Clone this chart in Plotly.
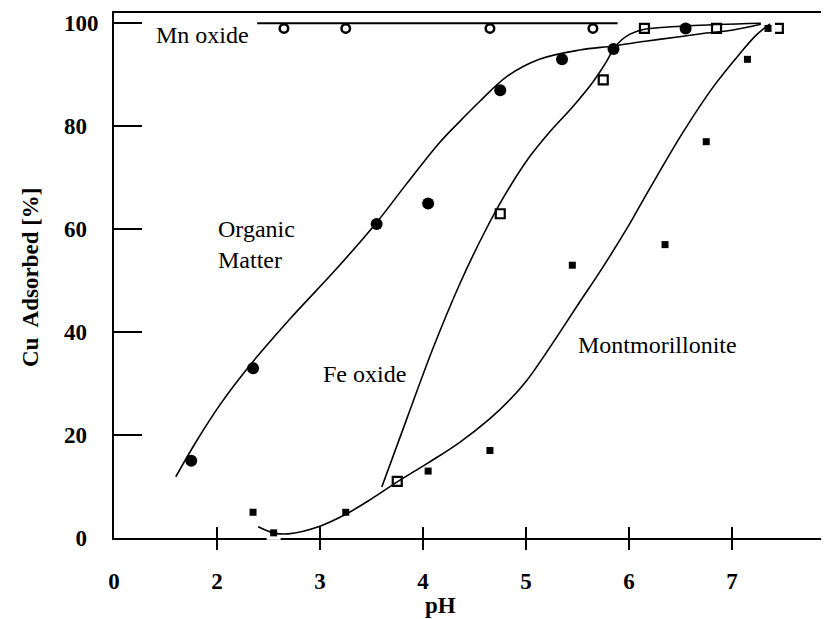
import plotly.graph_objects as go

# ---------------- data ----------------
# measured points
om_ph = [1.75, 2.35, 3.55, 4.05, 4.75, 5.35, 5.85, 6.55]
om_cu = [15, 33, 61, 65, 87, 93, 95, 99]

mn_ph = [2.65, 3.25, 4.65, 5.65]
mn_cu = [99, 99, 99, 99]

fe_ph = [3.75, 4.75, 5.75, 6.15, 6.85, 7.45]
fe_cu = [11, 63, 89, 99, 99, 99]

mt_ph = [2.35, 2.55, 3.25, 4.05, 4.65, 5.45, 6.35, 6.75, 7.15, 7.35]
mt_cu = [5, 1, 5, 13, 17, 53, 57, 77, 93, 99]

# hand-drawn fitted curves (traced)
om_curve_ph = [1.60, 1.80, 2.04, 2.33, 2.71, 3.16, 3.55, 3.84, 4.16, 4.36, 4.55, 4.81,
               5.13, 5.52, 5.85, 6.16, 6.49, 6.75, 7.01, 7.28]
om_curve_cu = [11.9, 18.8, 26.2, 33.8, 42.6, 52.3, 61.3, 68.8, 76.8, 81.0, 84.8, 89.6,
               93.0, 94.8, 95.6, 96.5, 97.4, 98.1, 98.7, 99.8]

fe_curve_ph = [3.60, 3.84, 4.10, 4.36, 4.60, 4.80, 5.04, 5.23, 5.45, 5.65, 5.78, 5.85,
               5.93, 6.01, 6.14, 6.57, 7.28]
fe_curve_cu = [9.9, 23.0, 37.0, 49.5, 59.5, 66.8, 74.2, 78.9, 83.7, 88.6, 92.5, 95.0,
               96.8, 97.9, 98.8, 99.5, 100.0]

mt_curve_ph = [2.40, 2.55, 2.69, 3.00, 3.25, 3.50, 3.75, 4.05, 4.35, 4.65, 4.85, 5.00,
               5.15, 5.33, 5.52, 5.72, 5.97, 6.19, 6.53, 6.82, 7.08, 7.24, 7.37]
mt_curve_cu = [2.2, 1.0, 0.8, 2.3, 4.6, 7.6, 10.9, 14.6, 18.5, 23.2, 27.0, 30.4,
               34.6, 40.0, 45.8, 51.8, 59.8, 67.5, 79.0, 87.7, 94.2, 97.8, 99.9]

mn_line_ph = [2.39, 5.89]
mn_line_cu = [100, 100]

# axis ticks
x_tick_vals = [1, 2, 3, 4, 5, 6, 7]
x_tick_text = ["0", "2", "3", "4", "5", "6", "7"]
x_mark_vals = [2, 3, 4, 5, 6, 7]
y_tick_vals = [0, 20, 40, 60, 80, 100]
y_tick_text = ["0\u2002", "20\u2002", "40\u2002", "60\u2002", "80\u2002", "100"]

X_RANGE = [1, 7.942]
Y_RANGE = [0, 102]

SERIF = "Liberation Serif, Times New Roman, serif"
BLACK = "#000000"

fig = go.Figure()

# Fe oxide squares (drawn first, partly hidden by later marks)
fig.add_trace(go.Scatter(x=fe_ph, y=fe_cu, mode="markers", cliponaxis=False,
                         marker=dict(symbol="square", size=9, color="white",
                                     line=dict(color=BLACK, width=2.2)),
                         showlegend=False, hoverinfo="skip"))
# white halo of the montmorillonite markers
fig.add_trace(go.Scatter(x=mt_ph, y=mt_cu, mode="markers", cliponaxis=False,
                         marker=dict(symbol="square", size=14, color="white",
                                     line=dict(width=0)),
                         showlegend=False, hoverinfo="skip"))
# curves
for cx, cy in [(om_curve_ph, om_curve_cu), (fe_curve_ph, fe_curve_cu),
               (mt_curve_ph, mt_curve_cu)]:
    fig.add_trace(go.Scatter(x=cx, y=cy, mode="lines",
                             line=dict(color=BLACK, width=1.6, shape="spline",
                                       smoothing=1.0),
                             showlegend=False, hoverinfo="skip"))
fig.add_trace(go.Scatter(x=mn_line_ph, y=mn_line_cu, mode="lines",
                         line=dict(color=BLACK, width=2),
                         showlegend=False, hoverinfo="skip"))
# montmorillonite
fig.add_trace(go.Scatter(x=mt_ph, y=mt_cu, mode="markers", cliponaxis=False,
                         marker=dict(symbol="square", size=7, color=BLACK,
                                     line=dict(width=0)),
                         showlegend=False, hoverinfo="skip"))
# organic matter
fig.add_trace(go.Scatter(x=om_ph, y=om_cu, mode="markers", cliponaxis=False,
                         marker=dict(symbol="circle", size=12, color=BLACK,
                                     line=dict(width=0)),
                         showlegend=False, hoverinfo="skip"))
# Mn oxide
fig.add_trace(go.Scatter(x=mn_ph, y=mn_cu, mode="markers", cliponaxis=False,
                         marker=dict(symbol="circle-open", size=8.5, color=BLACK,
                                     line=dict(color=BLACK, width=2.5)),
                         showlegend=False, hoverinfo="skip"))
# empty traces for the tick-only overlay axes
for ax in ["x2", "x3"]:
    fig.add_trace(go.Scatter(x=[], y=[], xaxis=ax, yaxis="y", showlegend=False,
                             hoverinfo="skip"))

label_font = dict(family=SERIF, size=24, color=BLACK)
tick_font = dict(family=SERIF, size=23, color=BLACK, weight="bold")

# the page adds an 8px body margin, so the figure is 8px smaller and offset
fig.update_layout(
    width=821, height=611,
    margin=dict(l=106, r=0, t=5, b=81),
    paper_bgcolor="white", plot_bgcolor="white",
    showlegend=False,
    xaxis=dict(range=X_RANGE, tickmode="array", tickvals=x_tick_vals,
               ticktext=x_tick_text, ticks="", tickfont=tick_font,
               ticklabelstandoff=21,
               showline=True, linecolor=BLACK, linewidth=2, mirror=True,
               showgrid=False, zeroline=False, layer="below traces"),
    xaxis2=dict(range=X_RANGE, overlaying="x", anchor="y", side="bottom",
                tickmode="array", tickvals=x_mark_vals, ticks="outside",
                ticklen=11, tickwidth=2, tickcolor=BLACK, showticklabels=False,
                showline=False, showgrid=False, zeroline=False,
                layer="below traces"),
    xaxis3=dict(range=X_RANGE, overlaying="x", anchor="y", side="bottom",
                tickmode="array", tickvals=x_mark_vals, ticks="inside",
                ticklen=11, tickwidth=2, tickcolor=BLACK, showticklabels=False,
                showline=False, showgrid=False, zeroline=False,
                layer="below traces"),
    yaxis=dict(range=Y_RANGE, tickmode="array", tickvals=y_tick_vals,
               ticktext=y_tick_text,
               ticks="inside", ticklen=28, tickwidth=2, tickcolor=BLACK,
               tickfont=tick_font, ticklabelstandoff=9,
               showline=True, linecolor=BLACK, linewidth=2,
               showgrid=False, zeroline=False, layer="below traces"),
)

# text labels
fig.add_annotation(x=1.861, y=97.7, xref="x", yref="y", text="Mn oxide",
                   showarrow=False, font=label_font, xanchor="center", yanchor="middle")
fig.add_annotation(x=1.99, y=57.0, xref="x", yref="y", text="Organic<br>Matter",
                   showarrow=False, font=label_font, xanchor="left", yanchor="middle",
                   align="left")
fig.add_annotation(x=3.428, y=31.8, xref="x", yref="y", text="Fe oxide",
                   showarrow=False, font=label_font, xanchor="center", yanchor="middle")
fig.add_annotation(x=6.279, y=37.5, xref="x", yref="y", text="Montmorillonite",
                   showarrow=False, font=label_font, xanchor="center", yanchor="middle")

# axis titles
fig.add_annotation(x=-0.1175, y=0.497, xref="paper", yref="paper",
                   text="Cu  Adsorbed [%]", textangle=-90, showarrow=False,
                   font=tick_font, xanchor="center", yanchor="middle")
fig.add_annotation(x=(440 - 114) / 715, y=-0.128, xref="paper", yref="paper",
                   text="pH", showarrow=False, font=tick_font,
                   xanchor="center", yanchor="middle")

fig.write_html("out.html")
